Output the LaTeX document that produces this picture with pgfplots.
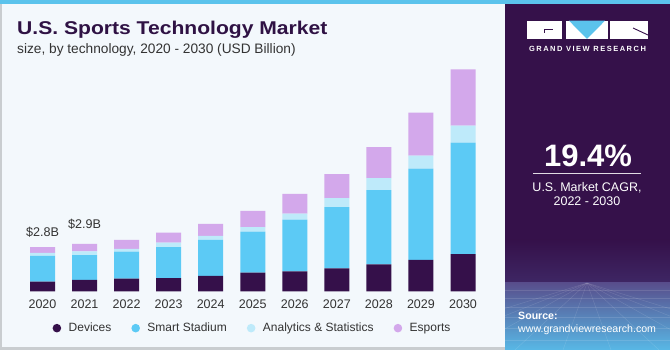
\documentclass[border=0pt]{standalone}
\usepackage{fontspec}
\setmainfont{Liberation Sans}
\usepackage{pgfplots}
\usepackage{pgfplotstable}
\pgfplotsset{compat=1.18}
\definecolor{cdev}{HTML}{35104A}
\definecolor{csmart}{HTML}{5CCAF5}
\definecolor{canal}{HTML}{BEEAFA}
\definecolor{cesp}{HTML}{D3A8EB}
\definecolor{ctitle}{HTML}{2F1244}
\definecolor{ctext}{HTML}{333333}
\definecolor{bgc}{HTML}{F3F8FC}
\definecolor{panel}{HTML}{35114A}
\definecolor{topstrip}{HTML}{5BC3EC}
\definecolor{bordergrey}{HTML}{C9CDD0}
\definecolor{logoblue}{HTML}{5BC3EC}

\pgfplotstableread{
x dev smart anal esp
0 0.61 1.61 0.19 0.36
1 0.72 1.56 0.23 0.46
2 0.80 1.69 0.17 0.56
3 0.84 1.94 0.27 0.63
4 0.97 2.25 0.25 0.75
5 1.18 2.56 0.28 1.02
6 1.26 3.23 0.38 1.23
7 1.45 3.83 0.56 1.50
8 1.70 4.64 0.75 1.94
9 1.97 5.71 0.81 2.69
10 2.34 6.96 1.06 3.53
}\datatable

\begin{document}
\begin{tikzpicture}[x=1pt,y=1pt]
\useasboundingbox (0,0) rectangle (670,350);
\fill[bgc] (0,0) rectangle (670,350);
% right panel
\fill[panel] (505,0) rectangle (670,350);
\shade[top color=panel, bottom color={rgb,255:red,62;green,38;blue,100}] (505,67) rectangle (670,110);
\shade[top color={rgb,255:red,88;green,78;blue,140}, bottom color={rgb,255:red,88;green,184;blue,230}] (505,0) rectangle (670,67);
\begin{scope}[white, opacity=0.12, line width=0.5pt]
\foreach \yy in {60,52,43,33,22,10} \draw (505,\yy) -- (670,\yy);
\foreach \xx in {-60,-20,20,60,100,140,180,220,260,300} \draw (587,67) -- ({587+(\xx-120)*1.2},0);
\end{scope}
% borders and top strip
\fill[topstrip] (0,345.5) rectangle (670,350);
\fill[bordergrey] (0,0) rectangle (1.5,345.5);
\fill[bordergrey] (0,0) rectangle (505,2.5);

% title
\node[anchor=base west, inner sep=0, text=ctitle] at (17,315)
  {\scalebox{1.14}[1]{\fontsize{18.5}{20}\selectfont\bfseries U.S. Sports Technology Market}};
\node[anchor=base west, inner sep=0, text=ctext] at (17,296)
  {\fontsize{13.7}{15}\selectfont size, by technology, 2020 - 2030 (USD Billion)};

% logo
\fill[white] (527,311) rectangle (562,329.3);
\fill[cdev] (544,320) rectangle (553,321);
\fill[cdev] (544,317) rectangle (545,321);
\fill[white] (566,311) rectangle (608,329.3);
\fill[logoblue] (569,329.3) -- (605,329.3) -- (587,311) -- cycle;
\fill[white] (610,311) rectangle (648,329.3);
\draw[cdev, line width=0.9pt] (633,322) -- (648,315);
\node[anchor=base, inner sep=0, text=white] at (587.5,298.3)
  {\fontsize{7.5}{9}\selectfont\addfontfeatures{LetterSpace=20}\bfseries GRAND VIEW RESEARCH};

\node[anchor=base, inner sep=0, text=white] at (588,183.3)
  {\fontsize{31}{33}\selectfont\bfseries 19.4\%};
\draw[white!85!panel, line width=0.8pt] (533,177) -- (641,177);
\node[anchor=base, inner sep=0, text=white] at (587,158.3)
  {\fontsize{12.5}{14}\selectfont U.S. Market CAGR,};
\node[anchor=base, inner sep=0, text=white] at (587,144.3)
  {\fontsize{12.5}{14}\selectfont 2022 - 2030};
\node[anchor=base west, inner sep=0, text=white] at (518,30)
  {\fontsize{10.6}{12}\selectfont\bfseries Source:};
\node[anchor=base west, inner sep=0, text=white] at (518,17.3)
  {\fontsize{10.6}{12}\selectfont www.grandviewresearch.com};

\begin{axis}[
  at={(42.5pt,58.5pt)}, anchor=origin,
  x=42.05pt, y=16pt,
  xmin=-0.6, xmax=10.6, ymin=0, ymax=14.5,
  ybar stacked, bar width=25pt,
  axis line style={draw=none},
  tick style={draw=none},
  ytick=\empty,
  xtick={0,...,10},
  xticklabels={2020,2021,2022,2023,2024,2025,2026,2027,2028,2029,2030},
  xticklabel style={font=\fontsize{12.5}{14}\selectfont, text=ctext, yshift=-4.5pt},
  clip=false,
  legend columns=4,
  legend style={at={(0.4995,-0.158)}, anchor=center, draw=none, fill=none,
    font=\fontsize{12}{14}\selectfont, text=ctext,
    /tikz/every odd column/.append style={column sep=5.5pt},
    /tikz/every even column/.append style={column sep=18pt}},
  legend image code/.code={\fill[#1] (0pt,0pt) circle (4.3pt);},
]
\addplot[fill=cdev, draw=none] table[x=x, y=dev] {\datatable};
\addplot[fill=csmart, draw=none] table[x=x, y=smart] {\datatable};
\addplot[fill=canal, draw=none] table[x=x, y=anal] {\datatable};
\addplot[fill=cesp, draw=none] table[x=x, y=esp] {\datatable};
\legend{Devices, Smart Stadium, Analytics \& Statistics, Esports}
\node[text=ctext, font=\fontsize{12.6}{14}\selectfont] at (axis cs:0,2.77) [yshift=15pt] {\$2.8B};
\node[text=ctext, font=\fontsize{12.6}{14}\selectfont] at (axis cs:1,2.97) [yshift=20pt] {\$2.9B};
\end{axis}
\end{tikzpicture}
\end{document}
